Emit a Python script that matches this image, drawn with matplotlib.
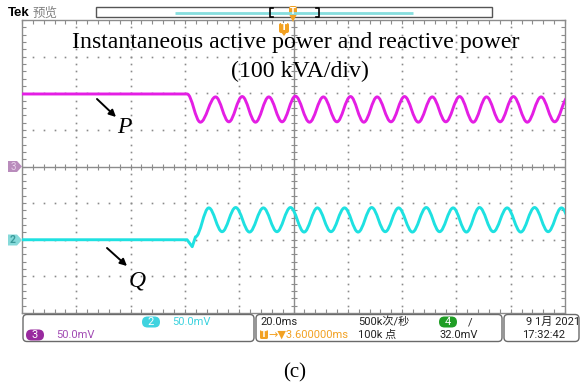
import numpy as np
import matplotlib
matplotlib.use("Agg")
import matplotlib.pyplot as plt
from matplotlib.path import Path
from matplotlib.patches import PathPatch, FancyBboxPatch, Polygon, Rectangle
from matplotlib import font_manager

# --- values: t in ms (20 ms/div), level in divisions ---
T_STEP = -39.2

P_LEVEL_PRE = 1.98
P_EXT_T = [-34.3, -28.7, -23.8, -18.9, -14.0, -9.1, -4.2, 0.7, 5.9, 11.0, 16.0, 21.0,
           25.9, 30.8, 35.9, 40.9, 46.0, 51.1, 56.1, 61.2, 66.2, 71.1, 76.1, 81.0,
           86.1, 91.2, 96.2, 101.2]
P_EXT_V = [1.21, 1.90, 1.22, 1.91, 1.21, 1.90, 1.22, 1.92, 1.21, 1.90, 1.22, 1.91,
           1.21, 1.90, 1.22, 1.91, 1.21, 1.90, 1.22, 1.91, 1.21, 1.90, 1.22, 1.91,
           1.21, 1.90, 1.22, 1.90]

Q_LEVEL_PRE = -2.0
Q_DIP_T = [-37.3, -36.1]
Q_DIP_V = [-2.19, -1.92]
Q_EXT_T = [-31.2, -26.3, -21.3, -16.2, -11.1, -6.1, -1.1, 3.9, 8.8, 13.8, 18.8, 23.8,
           28.8, 33.8, 38.7, 43.8, 48.9, 53.8, 58.8, 63.7, 68.5, 73.6, 78.7, 83.7,
           88.8, 93.8, 98.7, 103.7]
Q_EXT_V = [-1.13, -1.78, -1.12, -1.79, -1.13, -1.78, -1.12, -1.79, -1.13, -1.78, -1.13, -1.79,
           -1.12, -1.78, -1.13, -1.79, -1.12, -1.78, -1.13, -1.79, -1.12, -1.78, -1.13, -1.79,
           -1.12, -1.78, -1.13, -1.79]

P_COLOR = "#e41ee4"
Q_COLOR = "#1ee1e1"
GRID_C = "#8c8c8c"

names = {f.name for f in font_manager.fontManager.ttflist}
if "Liberation Sans Narrow" in names:
    UI, UI_SIZE = "Liberation Sans Narrow", 8.8
else:
    UI, UI_SIZE = "Roboto", 8.0
UI_FONTS = [UI, "Noto Sans CJK SC"]
SERIF = ["Liberation Serif", "DejaVu Serif"]

K = 0.3634  # bezier handle for a half cosine


def wave_path(pre_t, pre_v, ext_t, ext_v):
    verts = [(pre_t[0], pre_v[0])]
    codes = [Path.MOVETO]
    for t, v in zip(pre_t[1:], pre_v[1:]):
        verts.append((t, v))
        codes.append(Path.LINETO)
    t0, v0 = verts[-1]
    for t1, v1 in zip(ext_t, ext_v):
        h = t1 - t0
        verts += [(t0 + K * h, v0), (t1 - K * h, v1), (t1, v1)]
        codes += [Path.CURVE4] * 3
        t0, v0 = t1, v1
    return Path(verts, codes)


W, H = 581, 385
fig = plt.figure(figsize=(W / 100, H / 100), dpi=100)


def fx(x):
    return x / W


def fy(y):
    return 1 - y / H


# ---- graticule ----
L, R, T, B = 22, 565, 20, 313
ax = fig.add_axes([fx(L), fy(B), (R - L) / W, (B - T) / H])
ax.set_xlim(-100, 100)
ax.set_ylim(-4, 4)
for s in ax.spines.values():
    s.set_color(GRID_C)
    s.set_linewidth(1.0)
ax.set_xticks(np.arange(-100, 101, 4))
ax.set_yticks(np.arange(-4, 4.01, 0.2))
ax.tick_params(which="both", direction="in", length=3, width=0.8, color=GRID_C,
               top=True, right=True, labelbottom=False, labelleft=False)

minor_x = np.arange(-100, 101, 4)
minor_y = np.arange(-4, 4.01, 0.2)
for gx in np.arange(-80, 81, 20):
    if gx == 0:
        continue
    ax.plot(np.full_like(minor_y, gx), minor_y, ls="none", marker="s", ms=1.2,
            mec="none", mfc="#8a8a8a", zorder=1)
for gy in np.arange(-3, 4, 1):
    if gy == 0:
        continue
    ax.plot(minor_x, np.full_like(minor_x, gy, dtype=float), ls="none", marker="s", ms=1.2,
            mec="none", mfc="#8a8a8a", zorder=1)
ax.axhline(0, color=GRID_C, lw=1.0, zorder=1)
ax.axvline(0, color=GRID_C, lw=1.0, zorder=1)
ax.plot(minor_x, np.zeros_like(minor_x), ls="none", marker="|", ms=5, mew=0.8,
        color=GRID_C, zorder=1)
ax.plot(np.zeros_like(minor_y), minor_y, ls="none", marker="_", ms=5, mew=0.8,
        color=GRID_C, zorder=1)

# ---- traces ----
p_path = wave_path([-100, T_STEP], [P_LEVEL_PRE, P_LEVEL_PRE], P_EXT_T, P_EXT_V)
q_path = wave_path([-100, T_STEP] + Q_DIP_T, [Q_LEVEL_PRE, Q_LEVEL_PRE] + Q_DIP_V,
                   Q_EXT_T, Q_EXT_V)
for pth, col in ((p_path, P_COLOR), (q_path, Q_COLOR)):
    patch = PathPatch(pth, fill=False, edgecolor=col, lw=2.1, zorder=3,
                      joinstyle="round", capstyle="round")
    ax.add_patch(patch)

# ---- overlay in pixel coords ----
ov = fig.add_axes([0, 0, 1, 1], facecolor="none")
ov.set_xlim(0, W)
ov.set_ylim(H, 0)
ov.axis("off")

# header
ov.text(8, 13, "Tek", fontsize=9.5, fontweight="bold", family=["Liberation Sans", "DejaVu Sans"],
        va="center", ha="left")
ov.text(33, 13, "预览", fontsize=9, color="#808080", family=["Noto Sans CJK SC"],
        va="center", ha="left")
ov.add_patch(Rectangle((96, 7), 396, 10, fill=True, fc="white", ec="#555555", lw=1))
ov.plot([175, 413], [12.5, 12.5], color="#86dede", lw=2.0, solid_capstyle="butt")
for bx, d in ((270, 1), (319, -1)):
    ov.plot([bx + 3 * d, bx, bx, bx + 3 * d], [7.5, 7.5, 16.5, 16.5], color="black", lw=1.2)

ORANGE = "#f2a122"
ov.add_patch(FancyBboxPatch((289, 6), 8, 10, boxstyle="round,pad=0,rounding_size=2.5",
                            fc=ORANGE, ec="none"))
ov.add_patch(Polygon([(289, 14), (297, 14), (293, 22)], closed=True, fc=ORANGE, ec="none"))
ov.text(293, 11.5, "T", fontsize=6, color="white", fontweight="bold", ha="center", va="center")
ov.add_patch(FancyBboxPatch((279, 23), 10, 10, boxstyle="round,pad=0,rounding_size=2",
                            fc=ORANGE, ec="none"))
ov.add_patch(Polygon([(281, 32), (287, 32), (284, 36)], closed=True, fc=ORANGE, ec="none"))
ov.text(284, 28, "T", fontsize=6.5, color="white", fontweight="bold", ha="center", va="center")

# channel tags on the left edge
ov.add_patch(Polygon([(8, 161), (17, 161), (22, 166.5), (17, 172), (8, 172)], closed=True,
                     fc="#b98cbc", ec="none"))
ov.text(13, 166.8, "3", fontsize=7, color="#e8d2ea", ha="center", va="center",
        family=UI_FONTS)
ov.add_patch(Polygon([(8, 234.5), (17, 234.5), (22, 240), (17, 245.5), (8, 245.5)], closed=True,
                     fc="#86dada", ec="none"))
ov.text(13, 240.3, "2", fontsize=7.5, color="#3a9a9a", ha="center", va="center",
        family=UI_FONTS, fontweight="bold")

# title
ov.text(296, 48, "Instantaneous active power and reactive power", fontsize=17.2,
        family=SERIF, ha="center", va="baseline")
ov.text(299.5, 77, "(100 kVA/div)", fontsize=17.2, family=SERIF, ha="center", va="baseline")

# P / Q labels with arrows
ov.annotate("", xy=(116, 117), xytext=(97, 99),
            arrowprops=dict(arrowstyle="-|>", color="black", lw=1.4,
                            mutation_scale=10, shrinkA=0, shrinkB=0))
ov.text(124, 133, "P", fontsize=17, family=SERIF, style="italic", ha="center", va="baseline")
ov.annotate("", xy=(127, 266), xytext=(107, 248),
            arrowprops=dict(arrowstyle="-|>", color="black", lw=1.4,
                            mutation_scale=10, shrinkA=0, shrinkB=0))
ov.text(137, 287, "Q", fontsize=17, family=SERIF, style="italic", ha="center", va="baseline")

# status bar
for x0, x1 in ((23, 254), (256, 502), (504, 579)):
    ov.add_patch(FancyBboxPatch((x0, 314.5), x1 - x0, 27, boxstyle="round,pad=0,rounding_size=4",
                                fc="white", ec="#6a6a6a", lw=1.0))


def badge(xc, yc, label, col):
    ov.add_patch(FancyBboxPatch((xc - 9, yc - 5.5), 18, 11,
                                boxstyle="round,pad=0,rounding_size=5.5", fc=col, ec="none"))
    ov.text(xc, yc + 0.3, label, fontsize=UI_SIZE, color="white", ha="center", va="center",
            family=UI_FONTS)


CYAN_T = "#3fd3df"
PURP_T = "#a24cb4"
badge(151, 322, "2", CYAN_T)
ov.text(172, 322, "50.0mV", fontsize=UI_SIZE, color=CYAN_T, family=UI_FONTS, va="center")
badge(35, 335, "3", "#992a9f")
ov.text(56, 335, "50.0mV", fontsize=UI_SIZE, color=PURP_T, family=UI_FONTS, va="center")

ov.text(260, 322, "20.0ms", fontsize=UI_SIZE, color="#222222", family=UI_FONTS, va="center")
ov.add_patch(FancyBboxPatch((260, 330), 8, 9, boxstyle="round,pad=0,rounding_size=1.5",
                            fc=ORANGE, ec="none"))
ov.text(264, 334.8, "T", fontsize=6, color="white", fontweight="bold", ha="center", va="center")
ov.text(268.5, 335, "→▼3.600000ms", fontsize=UI_SIZE, color=ORANGE,
        family=[UI, "DejaVu Sans"], va="center")
ov.text(358, 322, "500k次/秒", fontsize=UI_SIZE, color="#222222", family=UI_FONTS, va="center")
ov.text(358, 335, "100k 点", fontsize=UI_SIZE, color="#222222", family=UI_FONTS, va="center")
badge(448, 322, "4", "#1f9e25")
ov.text(468, 322, "/", fontsize=UI_SIZE, color="#222222", family=UI_FONTS, va="center")
ov.text(440, 335, "32.0mV", fontsize=UI_SIZE, color="#222222", family=UI_FONTS, va="center")
ov.text(526, 322, "9 1月 2021", fontsize=UI_SIZE, color="#222222", family=UI_FONTS, va="center")
ov.text(522, 335, "17:32:42", fontsize=UI_SIZE, color="#222222", family=UI_FONTS, va="center")

# caption
ov.text(295, 377, "(c)", fontsize=15, family=SERIF, ha="center", va="baseline")

fig.savefig("out.png", dpi=100)
